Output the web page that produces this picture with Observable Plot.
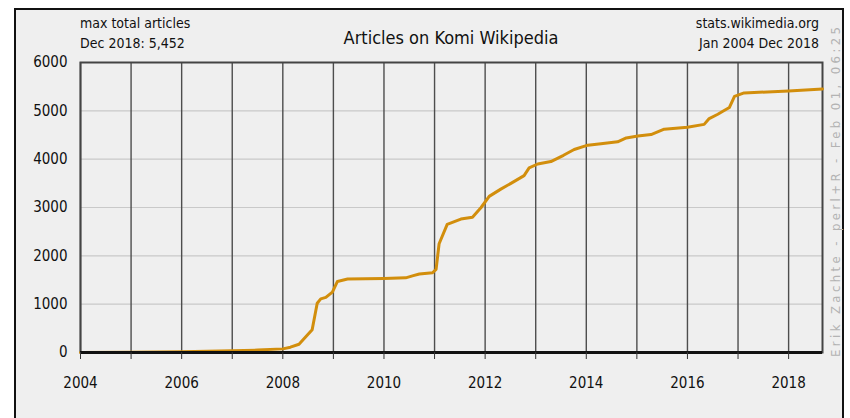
<!DOCTYPE html>
<html>
<head>
<meta charset="utf-8">
<script src="https://cdn.jsdelivr.net/npm/d3@7"></script>
<script src="https://cdn.jsdelivr.net/npm/@observablehq/plot@0.6"></script>
<style>
  html, body { margin: 0; padding: 0; background: #ffffff; }
  #wrap { position: relative; width: 850px; height: 418px; overflow: hidden; }
  #panel { position: absolute; left: 14px; top: 8px; width: 830px; height: 420px;
           border: 2px solid #111; background: #efefef; box-sizing: border-box; }
  #chart { position: absolute; left: 0; top: 0; }
  svg text { font-family: "DejaVu Sans Condensed", "DejaVu Sans", sans-serif; font-stretch: condensed; }
</style>
</head>
<body>
<div id="wrap"><div id="panel"></div><div id="chart"></div></div>
<script>
// time points (fractional years) and total article counts
const times = [2004.0, 2005.0, 2006.0, 2007.0, 2007.5, 2008.0, 2008.15, 2008.32, 2008.45, 2008.58,
  2008.68, 2008.75, 2008.85, 2008.98, 2009.08, 2009.28, 2010.0, 2010.43, 2010.58, 2010.7,
  2010.96, 2011.03, 2011.09, 2011.25, 2011.52, 2011.75, 2011.92, 2012.08, 2012.31, 2012.51,
  2012.77, 2012.87, 2013.04, 2013.3, 2013.55, 2013.76, 2014.03, 2014.29, 2014.62, 2014.79,
  2015.02, 2015.28, 2015.54, 2016.0, 2016.33, 2016.43, 2016.6, 2016.7, 2016.83, 2016.93,
  2017.12, 2018.0, 2018.67];
const articles = [0, 5, 15, 35, 50, 75, 110, 170, 320, 470,
  1020, 1110, 1140, 1250, 1470, 1520, 1530, 1545, 1590, 1625,
  1650, 1720, 2250, 2650, 2760, 2800, 3000, 3230, 3380, 3500,
  3660, 3820, 3900, 3950, 4080, 4200, 4290, 4320, 4360, 4440,
  4480, 4510, 4620, 4660, 4720, 4840, 4930, 4990, 5070, 5300,
  5370, 5410, 5452];
const yearTicks = [2004, 2005, 2006, 2007, 2008, 2009, 2010, 2011, 2012, 2013, 2014, 2015, 2016, 2017, 2018];
const yearLabels = [2004, 2006, 2008, 2010, 2012, 2014, 2016, 2018];
const valueTicks = [0, 1000, 2000, 3000, 4000, 5000, 6000];
const title = "Articles on Komi Wikipedia";
const topLeft = ["max total articles", "Dec 2018: 5,452"];
const topRight = ["stats.wikimedia.org", "Jan 2004 Dec 2018"];
const sideNote = "Erik Zachte - perl+R - Feb 01, 06:25";

const data = times.map((t, i) => ({t, v: articles[i]}));

const chart = Plot.plot({
  width: 850,
  height: 418,
  marginLeft: 80,
  marginRight: 28,
  marginTop: 62,
  marginBottom: 66,
  style: {background: "transparent", fontSize: "15px", color: "#111"},
  x: {domain: [2004, 2018.67], axis: null},
  y: {domain: [0, 6000], axis: null},
  marks: [
    Plot.ruleY(valueTicks, {stroke: "#c9c9c9", strokeWidth: 1.2}),
    Plot.ruleX(yearTicks, {stroke: "#4d4d4d", strokeWidth: 1.4}),
    Plot.frame({stroke: "#444", strokeWidth: 2}),
    Plot.line(data, {x: "t", y: "v", stroke: "#d28e0c", strokeWidth: 3, curve: "linear"}),
    Plot.ruleY([0], {stroke: "#111", strokeWidth: 3}),
    Plot.axisY({ticks: valueTicks, tickSize: 0, tickPadding: 13, label: null,
                tickFormat: d => String(d), fontSize: 15}),
    Plot.axisX({ticks: yearTicks, tickSize: 7, tickPadding: 18, stroke: "#333", label: null,
                tickFormat: d => yearLabels.includes(d) ? String(d) : "", fontSize: 15})
  ]
});
document.getElementById("chart").appendChild(chart);

const svg = d3.select(chart);
const tl = svg.append("g").attr("font-size", 14).attr("fill", "#111").attr("text-anchor", "start");
tl.append("text").attr("x", 80).attr("y", 28).text(topLeft[0]);
tl.append("text").attr("x", 80).attr("y", 48).text(topLeft[1]);
const tr = svg.append("g").attr("font-size", 14).attr("fill", "#111").attr("text-anchor", "end");
tr.append("text").attr("x", 819).attr("y", 28).text(topRight[0]);
tr.append("text").attr("x", 819).attr("y", 48).text(topRight[1]);
svg.append("text").attr("x", 451).attr("y", 44).attr("text-anchor", "middle")
  .attr("font-size", 18).attr("fill", "#111").text(title);
svg.append("text").attr("transform", "translate(840,357) rotate(-90)")
  .attr("font-size", 13).attr("letter-spacing", "3.4px").attr("fill", "#b3b3b3")
  .attr("text-anchor", "start").text(sideNote);
</script>
</body>
</html>
